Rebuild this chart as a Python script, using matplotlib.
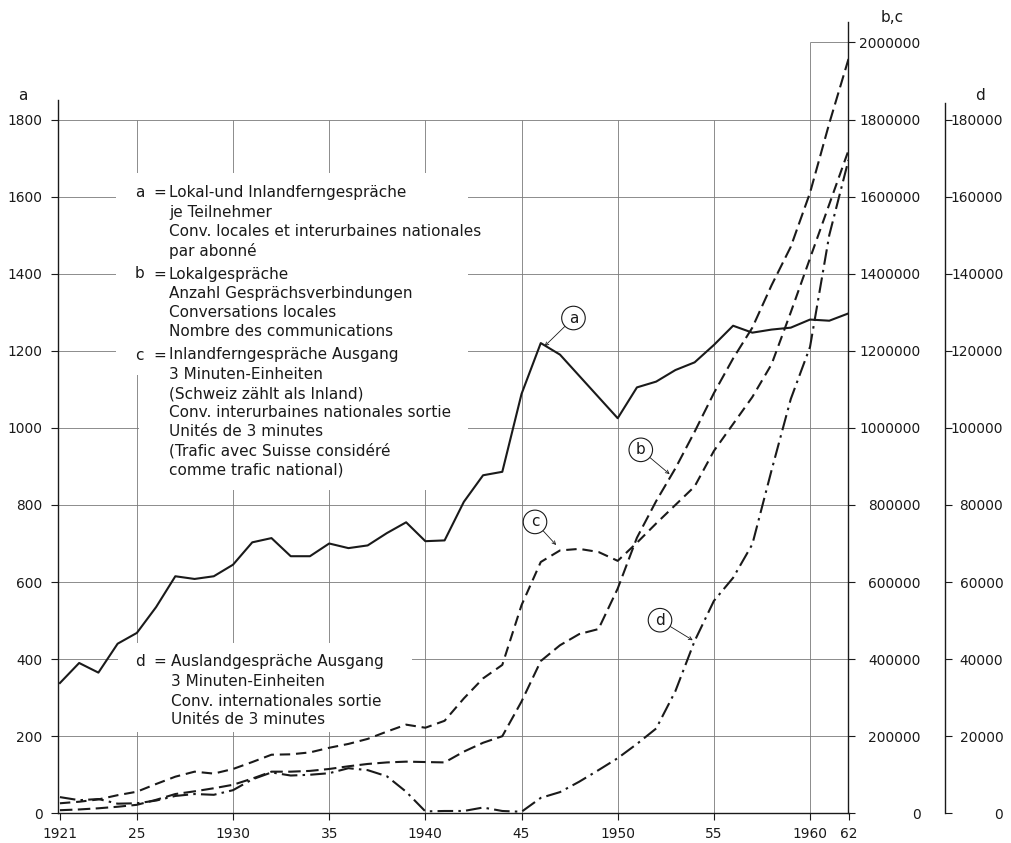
import matplotlib
matplotlib.use("Agg")
import matplotlib.pyplot as plt
from matplotlib.patches import Rectangle

# ---------------- data ----------------
years = list(range(1921, 1963))

# a = Lokal- und Inlandferngespräche je Teilnehmer
a_vals = [338, 390, 365, 440, 468, 535, 615, 608, 615, 645,
          703, 714, 667, 667, 700, 688, 695, 727, 755, 706,
          708, 808, 877, 886, 1088, 1220, 1190, 1135, 1080, 1025,
          1105, 1120, 1150, 1170, 1215, 1265, 1247, 1255, 1260, 1281,
          1278, 1297]

# b = Lokalgespräche (Anzahl Gesprächsverbindungen)
b_vals = [8000, 10000, 13000, 17000, 22000, 35000, 50000, 57000, 65000, 74000,
          90000, 108000, 108000, 110000, 115000, 122000, 128000, 132000, 134000, 133000,
          132000, 160000, 183000, 200000, 290000, 395000, 436000, 465000, 478000, 583000,
          715000, 810000, 895000, 990000, 1090000, 1180000, 1260000, 1370000, 1470000, 1610000,
          1790000, 1957000]

# c = Inlandferngespräche Ausgang (3-Minuten-Einheiten)
c_vals = [26000, 30000, 36000, 47000, 56000, 76000, 95000, 108000, 103000, 115000,
          133000, 152000, 153000, 158000, 170000, 180000, 193000, 212000, 230000, 222000,
          240000, 298000, 350000, 385000, 540000, 652000, 682000, 686000, 678000, 655000,
          702000, 752000, 800000, 848000, 940000, 1010000, 1080000, 1165000, 1300000, 1440000,
          1580000, 1720000]

# d = Auslandgespräche Ausgang (3-Minuten-Einheiten)
d_vals = [4200, 3400, 3700, 2500, 2600, 3300, 4500, 5000, 4800, 6000,
          8800, 10600, 9800, 10000, 10400, 11700, 11200, 9600, 5600, 500,
          600, 600, 1500, 600, 400, 4000, 5500, 8200, 11200, 14300,
          18000, 22000, 31700, 44700, 55100, 61100, 69800, 89000, 107500, 121000,
          150000, 169500]

x_ticks = [1921, 1925, 1930, 1935, 1940, 1945, 1950, 1955, 1960, 1962]
x_ticklabels = ["1921", "25", "1930", "35", "1940", "45", "1950", "55", "1960", "62"]
a_ticks = [0, 200, 400, 600, 800, 1000, 1200, 1400, 1600, 1800]
bc_ticks = [0, 200000, 400000, 600000, 800000, 1000000, 1200000, 1400000,
            1600000, 1800000, 2000000]
d_ticks = [0, 20000, 40000, 60000, 80000, 100000, 120000, 140000, 160000, 180000]

legend_abc = [
    ("a", ["Lokal-und Inlandferngespräche", "je Teilnehmer",
           "Conv. locales et interurbaines nationales", "par abonné"]),
    ("b", ["Lokalgespräche", "Anzahl Gesprächsverbindungen",
           "Conversations locales", "Nombre des communications"]),
    ("c", ["Inlandferngespräche Ausgang", "3 Minuten-Einheiten",
           "(Schweiz zählt als Inland)", "Conv. interurbaines nationales sortie",
           "Unités de 3 minutes", "(Trafic avec Suisse considéré",
           "comme trafic national)"]),
]
legend_d = ("d", ["Auslandgespräche Ausgang", "3 Minuten-Einheiten",
                  "Conv. internationales sortie", "Unités de 3 minutes"])

# ---------------- figure ----------------
W, H = 1011, 843
plt.rcParams['font.family'] = ['DejaVu Sans']
fig = plt.figure(figsize=(W / 100, H / 100), dpi=100)
fig.patch.set_facecolor("white")

def fx(px):
    return px / W

def fy(py):
    return 1 - py / H

L, R, B, T = 58, 848.5, 813.3, 22
ax = fig.add_axes([fx(L), fy(B), (R - L) / W, (B - T) / H])
XMIN, XMAX = 1920.9, 1962
AMAX = 2053
ax.set_xlim(XMIN, XMAX)
ax.set_ylim(0, AMAX)
ax.patch.set_visible(False)

ax2 = ax.twinx()
ax2.set_ylim(0, AMAX * 1000)
ax3 = ax.twinx()
ax3.set_ylim(0, AMAX * 100)

ink = "#1a1a1a"
grid_c = "#7a7a7a"
fs = 11.0     # explanatory text
tfs = 9.9     # tick labels

for s in ["top", "right"]:
    ax.spines[s].set_visible(False)
ax.spines["left"].set_bounds(0, 1850)
ax.spines["bottom"].set_bounds(XMIN, XMAX)
for s in ["left", "bottom"]:
    ax.spines[s].set_linewidth(1.0)
    ax.spines[s].set_color(ink)

for s in ["top", "left", "bottom"]:
    ax2.spines[s].set_visible(False)
    ax3.spines[s].set_visible(False)
ax2.spines["right"].set_linewidth(1.0)
ax2.spines["right"].set_color(ink)
ax3.spines["right"].set_position(("axes", (945 - L) / (R - L)))
ax3.spines["right"].set_bounds(0, 184300)
ax3.spines["right"].set_linewidth(1.0)
ax3.spines["right"].set_color(ink)

ax.set_xticks(x_ticks)
ax.set_xticklabels(x_ticklabels, fontsize=tfs, color=ink)
ax.set_yticks(a_ticks)
ax.set_yticklabels([str(v) for v in a_ticks], fontsize=tfs, color=ink)
ax.tick_params(axis="x", direction="out", length=5, width=0.8, pad=5, colors=ink)
ax.tick_params(axis="y", direction="out", length=5, width=0.8, pad=6, colors=ink)

ax2.set_yticks(bc_ticks)
ax2.set_yticklabels([str(v) for v in bc_ticks], fontsize=tfs, color=ink)
ax2.tick_params(axis="y", direction="out", length=5, width=0.8, pad=47, colors=ink)
for lab in ax2.get_yticklabels():
    lab.set_horizontalalignment("right")

ax3.set_yticks(d_ticks)
ax3.set_yticklabels([str(v) for v in d_ticks], fontsize=tfs, color=ink)
ax3.tick_params(axis="y", direction="out", length=5, width=0.8, pad=37, colors=ink)
for lab in ax3.get_yticklabels():
    lab.set_horizontalalignment("right")

# grid
ax.hlines(a_ticks[1:], XMIN, XMAX, color=grid_c, lw=0.6, zorder=1)
ax.vlines(x_ticks[1:-2], 0, 1800, color=grid_c, lw=0.6, zorder=1)
ax.vlines([1960], 0, 2000, color=grid_c, lw=0.6, zorder=1)
ax.hlines([2000], 1960, XMAX, color=grid_c, lw=0.6, zorder=1)

# white panels behind the explanatory texts (above grid, below curves)
for (x0, y0, x1, y1) in [(116, 173, 468, 375), (139, 375, 468, 490), (118, 643, 412, 732)]:
    ax.add_patch(Rectangle((fx(x0), fy(y1)), (x1 - x0) / W, (y1 - y0) / H,
                           transform=fig.transFigure, facecolor="white",
                           edgecolor="none", zorder=2, clip_on=False))

# curves
lw = 1.5
ax.plot(years, a_vals, color=ink, lw=lw, zorder=3)
ax2.plot(years, b_vals, color=ink, lw=lw, dashes=(6, 2.6), zorder=3)
ax2.plot(years, c_vals, color=ink, lw=lw, dashes=(5, 2.8), zorder=3)
ax3.plot(years, d_vals, color=ink, lw=lw, dashes=(7.5, 2.5, 1.2, 2.5), zorder=3)

# explanatory texts
line_y = [192.7, 212.3, 231.7, 251, 274, 293.3, 312.7, 331, 355, 374.3, 393.7,
          412.3, 431, 450.7, 470]
k = 0
for key, lines in legend_abc:
    fig.text(fx(135), fy(line_y[k]), key, fontsize=fs, va="center", ha="left", color=ink, zorder=3)
    fig.text(fx(153), fy(line_y[k]), "=", fontsize=fs, va="center", ha="left", color=ink, zorder=3)
    for ln in lines:
        fig.text(fx(169), fy(line_y[k]), ln, fontsize=fs, va="center", ha="left", color=ink, zorder=3)
        k += 1
d_y = [661.7, 681.7, 701, 720]
fig.text(fx(135), fy(d_y[0]), legend_d[0], fontsize=fs, va="center", ha="left", color=ink, zorder=3)
fig.text(fx(153), fy(d_y[0]), "=", fontsize=fs, va="center", ha="left", color=ink, zorder=3)
for yy, ln in zip(d_y, legend_d[1]):
    fig.text(fx(171), fy(yy), ln, fontsize=fs, va="center", ha="left", color=ink, zorder=3)

# axis names
fig.text(fx(23), fy(96), "a", fontsize=fs, ha="center", va="center", color=ink)
fig.text(fx(892), fy(18), "b,c", fontsize=fs, ha="center", va="center", color=ink)
fig.text(fx(980), fy(96), "d", fontsize=fs, ha="center", va="center", color=ink)

# circled curve labels
circ = dict(boxstyle="circle,pad=0.28", fc="white", ec=ink, lw=0.8)
arr = dict(arrowstyle="->", lw=0.6, color=ink, shrinkA=0, shrinkB=0, mutation_scale=6)
for lab, (tx, ty), (hx, hy) in [("a", (1947.7, 1285), (1946.2, 1212)),
                                ("b", (1951.2, 943), (1952.7, 880)),
                                ("c", (1945.7, 756), (1946.8, 696)),
                                ("d", (1952.2, 501), (1953.9, 449))]:
    ax.annotate(lab, xy=(hx, hy), xytext=(tx, ty), fontsize=fs, ha="center", va="center",
                color=ink, bbox=circ, arrowprops=arr, zorder=5)

fig.savefig("out.png", dpi=100, facecolor="white")
